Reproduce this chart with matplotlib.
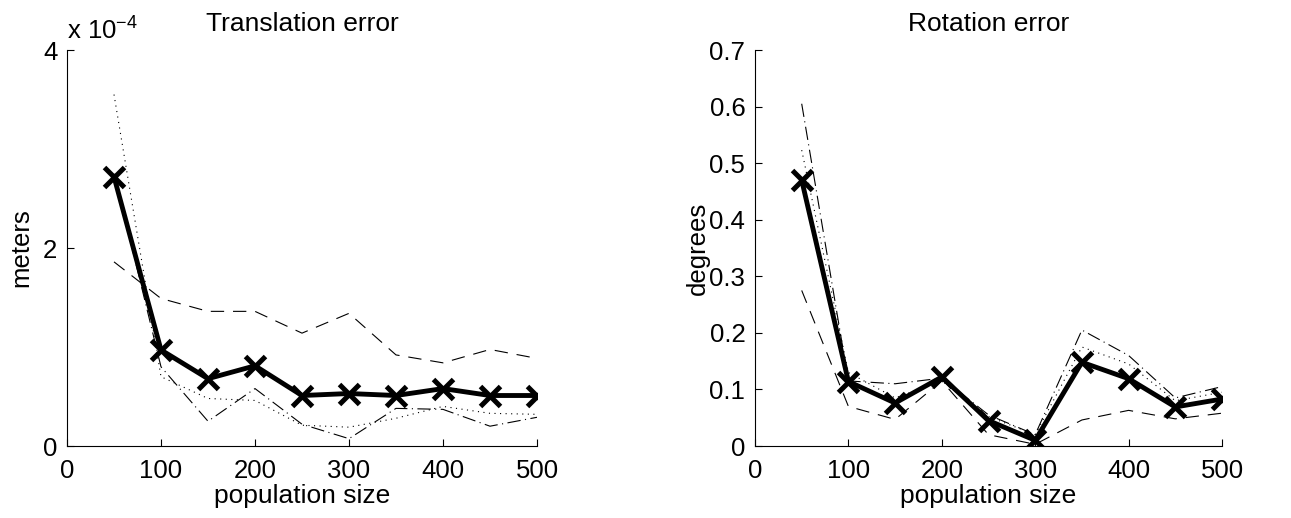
import matplotlib
matplotlib.use("Agg")
import matplotlib.pyplot as plt
from matplotlib.ticker import FuncFormatter

plt.rcParams['font.family'] = ['Liberation Sans', 'DejaVu Sans']

pop = [50, 100, 150, 200, 250, 300, 350, 400, 450, 500]

# Translation error (units of 1e-4 m)
trans_mean = [2.72, 0.97, 0.68, 0.81, 0.51, 0.53, 0.51, 0.58, 0.51, 0.51]
trans_dash = [1.86, 1.49, 1.36, 1.36, 1.14, 1.34, 0.92, 0.84, 0.975, 0.885]
trans_dot = [3.55, 0.70, 0.48, 0.46, 0.21, 0.19, 0.28, 0.40, 0.33, 0.32]
trans_dashdot = [2.75, 0.80, 0.25, 0.58, 0.22, 0.074, 0.38, 0.37, 0.20, 0.29]

# Rotation error (degrees)
rot_mean = [0.47, 0.114, 0.076, 0.122, 0.045, 0.010, 0.148, 0.119, 0.069, 0.083]
rot_dash = [0.275, 0.07, 0.047, 0.115, 0.02, 0.003, 0.046, 0.063, 0.048, 0.058]
rot_dot = [0.523, 0.13, 0.085, 0.115, 0.052, 0.02, 0.175, 0.145, 0.08, 0.095]
rot_dashdot = [0.605, 0.115, 0.11, 0.12, 0.055, 0.02, 0.205, 0.16, 0.085, 0.105]

xticks = [0, 100, 200, 300, 400, 500]
trans_yticks = [0, 2, 4]
rot_yticks = [0, 0.1, 0.2, 0.3, 0.4, 0.5, 0.6, 0.7]
SCALE = 1e-4

W, H = 1291, 518
fig = plt.figure(figsize=(W / 100, H / 100), dpi=100)

ax1 = fig.add_axes([67 / W, (H - 446) / H, 470 / W, 396 / H])
ax2 = fig.add_axes([755 / W, (H - 446) / H, 467 / W, 396 / H])

FS = 18.5

def draw(ax, mean, dash, dot, dashdot, scale=1.0):
    thin = dict(color='black', lw=0.8)
    ax.plot(pop, [v * scale for v in dash], dashes=(12, 8), **thin)
    ax.plot(pop, [v * scale for v in dot], dashes=(1, 4), **thin)
    ax.plot(pop, [v * scale for v in dashdot], dashes=(12, 4, 1, 4), **thin)
    ax.plot(pop, [v * scale for v in mean], color='black', lw=3.5,
            marker='x', markersize=15, markeredgewidth=3.6)
    ax.set_xlim(0, 500)
    ax.set_xticks(xticks)
    for s in ('top', 'right'):
        ax.spines[s].set_visible(False)
    ax.tick_params(direction='in', length=5, width=0.8, labelsize=FS)
    ax.tick_params(axis='x', pad=9)
    ax.tick_params(axis='y', pad=7)
    ax.set_xlabel('population size', fontsize=FS + 0.5, labelpad=1)

draw(ax1, trans_mean, trans_dash, trans_dot, trans_dashdot, SCALE)
ax1.set_ylim(0, 4 * SCALE)
ax1.set_yticks([t * SCALE for t in trans_yticks])
ax1.yaxis.set_major_formatter(FuncFormatter(lambda v, p: f"{v / SCALE:g}"))
ax1.set_ylabel('meters', fontsize=FS, labelpad=7)
ax1.set_title('Translation error', fontsize=FS + 0.5, pad=14)
ax1.text(0.0, 1.015, r'x 10$^{\mathregular{-4}}$', transform=ax1.transAxes,
         fontsize=FS, ha='left', va='bottom')

draw(ax2, rot_mean, rot_dash, rot_dot, rot_dashdot)
ax2.set_ylim(0, 0.7)
ax2.set_yticks(rot_yticks)
ax2.yaxis.set_major_formatter(FuncFormatter(lambda v, p: f"{v:g}"))
ax2.set_ylabel('degrees', fontsize=FS, labelpad=0)
ax2.set_title('Rotation error', fontsize=FS + 0.5, pad=14)

fig.savefig('out.png', dpi=100)
